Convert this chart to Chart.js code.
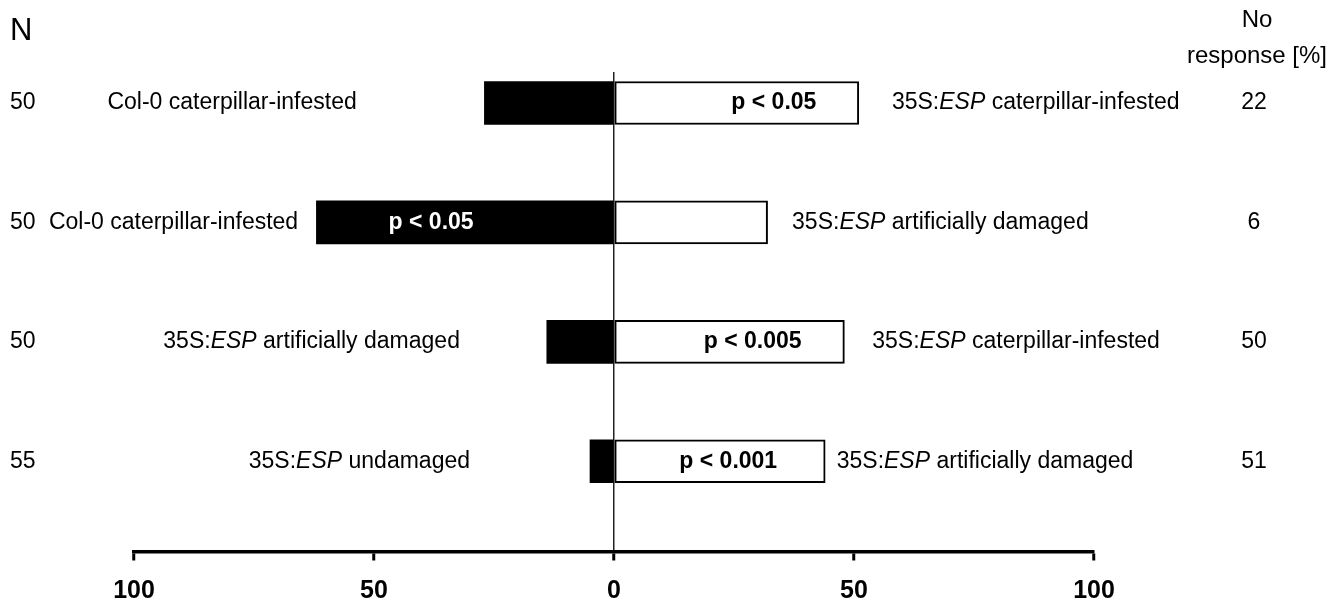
<!DOCTYPE html>
<html>
<head>
<meta charset="utf-8">
<script src="https://cdn.jsdelivr.net/npm/chart.js@4/dist/chart.umd.min.js"></script>
<style>
  html, body { margin: 0; padding: 0; background: #fff; }
  #wrap { width: 1341px; height: 601px; position: relative; }
</style>
</head>
<body>
<div id="wrap"><canvas id="c" width="1341" height="601"></canvas></div>
<script>
// ---- data ----
const nValues      = [50, 50, 50, 55];
const leftLabels   = ['Col-0 caterpillar-infested', 'Col-0 caterpillar-infested', '35S:*ESP* artificially damaged', '35S:*ESP* undamaged'];
const rightLabels  = ['35S:*ESP* caterpillar-infested', '35S:*ESP* artificially damaged', '35S:*ESP* caterpillar-infested', '35S:*ESP* artificially damaged'];
const leftPct      = [27, 62, 14, 5];    // black bars (choice of left odour)
const rightPct     = [51, 32, 48, 44];   // white bars (choice of right odour)
const noResponse   = [22, 6, 50, 51];
const pValues      = ['p < 0.05', 'p < 0.05', 'p < 0.005', 'p < 0.001'];
const pOnSide      = ['right', 'left', 'right', 'right'];
const xTicks       = [-100, -50, 0, 50, 100];

// ---- layout (x positions in axis units) ----
const LAYOUT = {
  leftLabelEnd:   [-53.6, -65.8, -32.1, -30.0],
  rightLabelStart:[ 57.9,  37.1,  53.8,  46.4],
  pCenter:        [ 33.3, -38.1,  28.9,  23.8],
  nX: 10,
  noRespX: 1254,
  headX: 1257,
  font: 'Liberation Sans, Arial, Helvetica, sans-serif'
};

const rowIdx = nValues.map((_, i) => i);

function drawRich(ctx, str, x, y, align, size, weight) {
  const parts = str.split('*');
  const fonts = parts.map((p, k) => (k % 2 ? 'italic ' : '') + (weight || 'normal') + ' ' + size + 'px ' + LAYOUT.font);
  let total = 0;
  const widths = parts.map((p, k) => { ctx.font = fonts[k]; const w = ctx.measureText(p).width; total += w; return w; });
  let cx = align === 'right' ? x - total : (align === 'center' ? x - total / 2 : x);
  ctx.textAlign = 'left';
  parts.forEach((p, k) => { ctx.font = fonts[k]; ctx.fillText(p, cx, y); cx += widths[k]; });
}

const textPlugin = {
  id: 'rowText',
  afterDatasetsDraw(chart) {
    const ctx = chart.ctx;
    const xs = chart.scales.x, ys = chart.scales.y;
    ctx.save();
    ctx.textBaseline = 'middle';
    ctx.fillStyle = '#000';
    // headers
    drawRich(ctx, 'N', LAYOUT.nX, 31, 'left', 31);
    drawRich(ctx, 'No', LAYOUT.headX, 20, 'center', 24);
    drawRich(ctx, 'response [%]', LAYOUT.headX, 56, 'center', 24);
    rowIdx.forEach(i => {
      const y = ys.getPixelForValue(i);
      ctx.fillStyle = '#000';
      drawRich(ctx, String(nValues[i]), LAYOUT.nX, y, 'left', 23);
      drawRich(ctx, leftLabels[i], xs.getPixelForValue(LAYOUT.leftLabelEnd[i]), y, 'right', 23);
      drawRich(ctx, rightLabels[i], xs.getPixelForValue(LAYOUT.rightLabelStart[i]), y, 'left', 23);
      drawRich(ctx, String(noResponse[i]), LAYOUT.noRespX, y, 'center', 23);
      ctx.fillStyle = pOnSide[i] === 'left' ? '#fff' : '#000';
      drawRich(ctx, pValues[i], xs.getPixelForValue(LAYOUT.pCenter[i]), y, 'center', 23, 'bold');
    });
    ctx.restore();
  }
};

new Chart(document.getElementById('c'), {
  type: 'bar',
  data: {
    datasets: [
      {
        label: 'left',
        data: rowIdx.map(i => ({ x: -leftPct[i], y: i })),
        backgroundColor: '#000',
        borderWidth: 0,
        barThickness: 43
      },
      {
        label: 'right',
        data: rowIdx.map(i => ({ x: rightPct[i], y: i })),
        backgroundColor: '#fff',
        borderColor: '#000',
        borderWidth: 2,
        borderSkipped: false,
        barThickness: 43
      }
    ]
  },
  options: {
    indexAxis: 'y',
    responsive: false,
    animation: false,
    devicePixelRatio: 1,
    layout: { padding: { left: 134, right: 247, top: 72, bottom: 0 } },
    plugins: { legend: { display: false }, tooltip: { enabled: false } },
    scales: {
      x: {
        type: 'linear',
        stacked: true,
        min: -100, max: 100,
        afterBuildTicks: s => { s.ticks = xTicks.map(v => ({ value: v })); },
        afterFit: s => { s.height = 49.5; },
        ticks: {
          callback: v => Math.abs(v),
          color: '#000',
          padding: 21,
          font: { family: LAYOUT.font, size: 25, weight: 'bold', lineHeight: 0.8 }
        },
        grid: {
          color: c => (c.tick && c.tick.value === 0 ? '#222' : 'rgba(0,0,0,0)'),
          lineWidth: 1.5,
          tickColor: '#000',
          tickWidth: 3,
          tickLength: 9
        },
        border: { display: true, color: '#000', width: 3.5 }
      },
      y: {
        type: 'linear',
        stacked: true,
        reverse: true,
        offset: false,
        min: -0.26, max: 3.756,
        display: false
      }
    }
  },
  plugins: [textPlugin]
});
</script>
</body>
</html>
